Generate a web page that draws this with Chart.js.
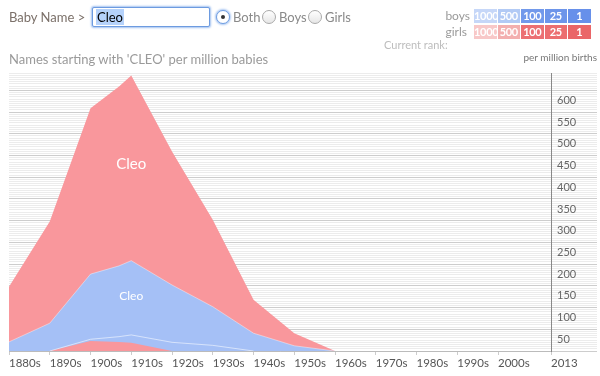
<!DOCTYPE html>
<html><head><meta charset="utf-8">
<script src="https://cdn.jsdelivr.net/npm/chart.js@4"></script>
<style>
html,body{margin:0;padding:0;background:#fff;width:600px;height:376px;overflow:hidden;font-family:Lato,'Open Sans',sans-serif;}
#wrap{position:relative;width:600px;height:376px;}
canvas{position:absolute;left:0;top:0;}
.abs{position:absolute;white-space:nowrap;}
.radio{position:absolute;top:10px;width:12px;height:12px;border:1px solid #a9a9a9;border-radius:50%;background:linear-gradient(#fff,#e6e6e6);}
.radio.on{border-color:#6f9de0;box-shadow:0 0 2px 1px #a9c6f2;background:#fff;}
.radio.on::after{content:'';position:absolute;left:4px;top:4px;width:4px;height:4px;border-radius:50%;background:#333;}
.rl{top:8px;font-size:13px;line-height:18px;color:#8a8a8a;}
.cell{position:absolute;width:22.5px;height:14px;line-height:14px;font-size:11px;font-weight:bold;color:#fff;text-align:center;letter-spacing:-0.3px;overflow:visible;}
</style></head>
<body><div id="wrap">
<canvas id="c" width="600" height="376"></canvas>
<div class="abs" style="left:9px;top:8px;font-size:13px;line-height:18px;color:#7b7069;">Baby Name &gt;</div>
<div class="abs" style="left:92px;top:7px;width:116px;height:18px;border:1px solid #6d9be0;box-shadow:0 0 2px 1px #a3c2f0;border-radius:2px;background:#fff;">
  <span style="position:absolute;left:3px;top:1px;font-size:13px;line-height:16px;color:#000;background:#b5d2fb;padding:0 1px;">Cleo</span>
</div>
<div class="radio on" style="left:216px;"></div><div class="abs rl" style="left:233px;">Both</div>
<div class="radio" style="left:262px;"></div><div class="abs rl" style="left:279px;">Boys</div>
<div class="radio" style="left:308px;"></div><div class="abs rl" style="left:325px;">Girls</div>
<div class="abs" style="right:130px;top:8px;font-size:12px;line-height:16px;color:#9a9a9a;">boys</div>
<div class="abs" style="right:133px;top:24px;font-size:12px;line-height:16px;color:#9a9a9a;">girls</div>
<div class="abs" style="left:384px;top:38px;font-size:11px;line-height:14px;color:#bdbdbd;">Current rank:</div>
<div class="abs" style="right:3px;top:50px;font-size:10px;line-height:14px;color:#777;">per million births</div>
<div class="abs" style="left:9px;top:51px;font-size:13px;line-height:16px;color:#9a9a9a;">Names starting with 'CLEO' per million babies</div>
<div id="legend"></div>
</div>
<script>
// ---- data ----
const years = [1880,1890,1900,1907,1910,1920,1930,1940,1950,1960,1970,1980,1990,2000,2013];
const girlsOther = [0,0,23,21,19,0,0,0,0,0,0,0,0,0,0];
const boysOther  = [0,0,4,12,18,20,13,0,0,0,0,0,0,0,0];
const boysCleo   = [21,64,150,163,171,132,89,41,12,0,0,0,0,0,0];
const girlsCleo  = [127,234,382,413,426,307,200,77,29,0,0,0,0,0,0];
const seriesNames = ['other girls', 'other boys', 'Cleo', 'Cleo'];
const tickYears = [1880,1890,1900,1910,1920,1930,1940,1950,1960,1970,1980,1990,2000,2013];
const tickLabels = ['1880s','1890s','1900s','1910s','1920s','1930s','1940s','1950s','1960s','1970s','1980s','1990s','2000s','2013'];
const rankLabels = ['1000','500','100','25','1'];
const boysRankColors = ['#c6d7f8','#b2caf5','#7299eb','#6d95ea','#6790ea'];
const girlsRankColors = ['#f8c8c8','#f3afaf','#ec7073','#ec6e70','#ea6668'];

// legend cells
const lg = document.getElementById('legend');
rankLabels.forEach((t,i)=>{
  [[9,boysRankColors],[24.5,girlsRankColors]].forEach(([top,cols])=>{
    const d=document.createElement('div');d.className='cell';
    d.style.left=(474+i*23.5)+'px';d.style.top=top+'px';d.style.background=cols[i];d.textContent=t;
    lg.appendChild(d);
  });
});

const PINK='#f9979c', BLUE='#a5c0f6';
const seriesArr=[girlsOther,boysOther,boysCleo,girlsCleo];
const cum=[];seriesArr.forEach((a,k)=>{cum[k]=a.map((v,i)=>v+(k?cum[k-1][i]:0));});
// stacked layers, each filled to the origin; the filler draws them top layer first
function area(k,color){
  return {label:seriesNames[k],yAxisID:'y',data:years.map((y,i)=>({x:y,y:seriesArr[k][i]})),
    backgroundColor:color,borderColor:'rgba(0,0,0,0)',borderWidth:0,fill:'origin',pointRadius:0,tension:0};
}
// thin light edge along the top of a stacked layer, only where that edge is above the baseline
function edge(k,color){
  const c=cum[k];
  return {label:seriesNames[k]+' edge',yAxisID:'y2',fill:false,pointRadius:0,tension:0,borderWidth:1,borderColor:color,
    data:years.map((y,i)=>({x:y,y:(c[i]>0||(i>0&&c[i-1]>0)||(i<c.length-1&&c[i+1]>0))?c[i]:null}))};
}
const areaLabels={id:'areaLabels',afterDatasetsDraw(chart){
  const {ctx,scales:{x,y}}=chart;
  [[3,15],[2,12]].forEach(([k,size])=>{
    const arr=seriesArr[k];let idx=0;arr.forEach((v,i)=>{if(v>arr[idx])idx=i;});
    const below=cum[k][idx]-arr[idx];
    ctx.save();ctx.fillStyle='#fff';ctx.font=size+'px Lato';ctx.textAlign='center';ctx.textBaseline='middle';
    ctx.fillText(seriesNames[k],x.getPixelForValue(years[idx]),y.getPixelForValue(below+arr[idx]*0.52));
    ctx.restore();
  });
}};
new Chart(document.getElementById('c'),{
  type:'line',
  data:{datasets:[
    area(0,PINK),
    area(1,BLUE),
    area(2,BLUE),
    area(3,PINK),
    edge(1,'rgba(255,255,255,0.55)'),
    edge(2,'rgba(255,255,255,0.4)')
  ]},
  options:{
    responsive:false,animation:false,spanGaps:false,
    layout:{padding:{left:9,top:73,right:0,bottom:0}},
    plugins:{legend:{display:false},tooltip:{enabled:false},title:{display:false},filler:{drawTime:'beforeDatasetsDraw'}},
    scales:{
      x:{type:'linear',min:1880,max:2013,
        afterBuildTicks:s=>{s.ticks=tickYears.map(v=>({value:v}));},
        afterFit:s=>{s.height=25;},
        ticks:{autoSkip:false,maxRotation:0,align:'start',padding:1,color:'#555',font:{family:'Lato',size:11.5},callback:(v,i)=>tickLabels[i]},
        grid:{drawOnChartArea:false,tickLength:4,color:'#cccccc'},
        border:{color:'#bbbbbb'}},
      y:{position:'right',stacked:true,min:0,max:640,
        afterFit:s=>{s.width=49;},
        ticks:{stepSize:5,autoSkip:false,padding:-40,labelOffset:10,crossAlign:'near',color:'#666',font:{family:'Lato',size:11},
          callback:v=>(v%50===0&&v>0&&v<=600)?String(v):''},
        grid:{tickLength:46,lineWidth:1,color:c=>(c.tick&&c.tick.value%50===0)?'#cdcdcd':'#ececec'},
        border:{color:'#888'}},
      y2:{display:false,stacked:false,min:0,max:640}
    }
  },
  plugins:[areaLabels]
});
</script>
</body></html>
